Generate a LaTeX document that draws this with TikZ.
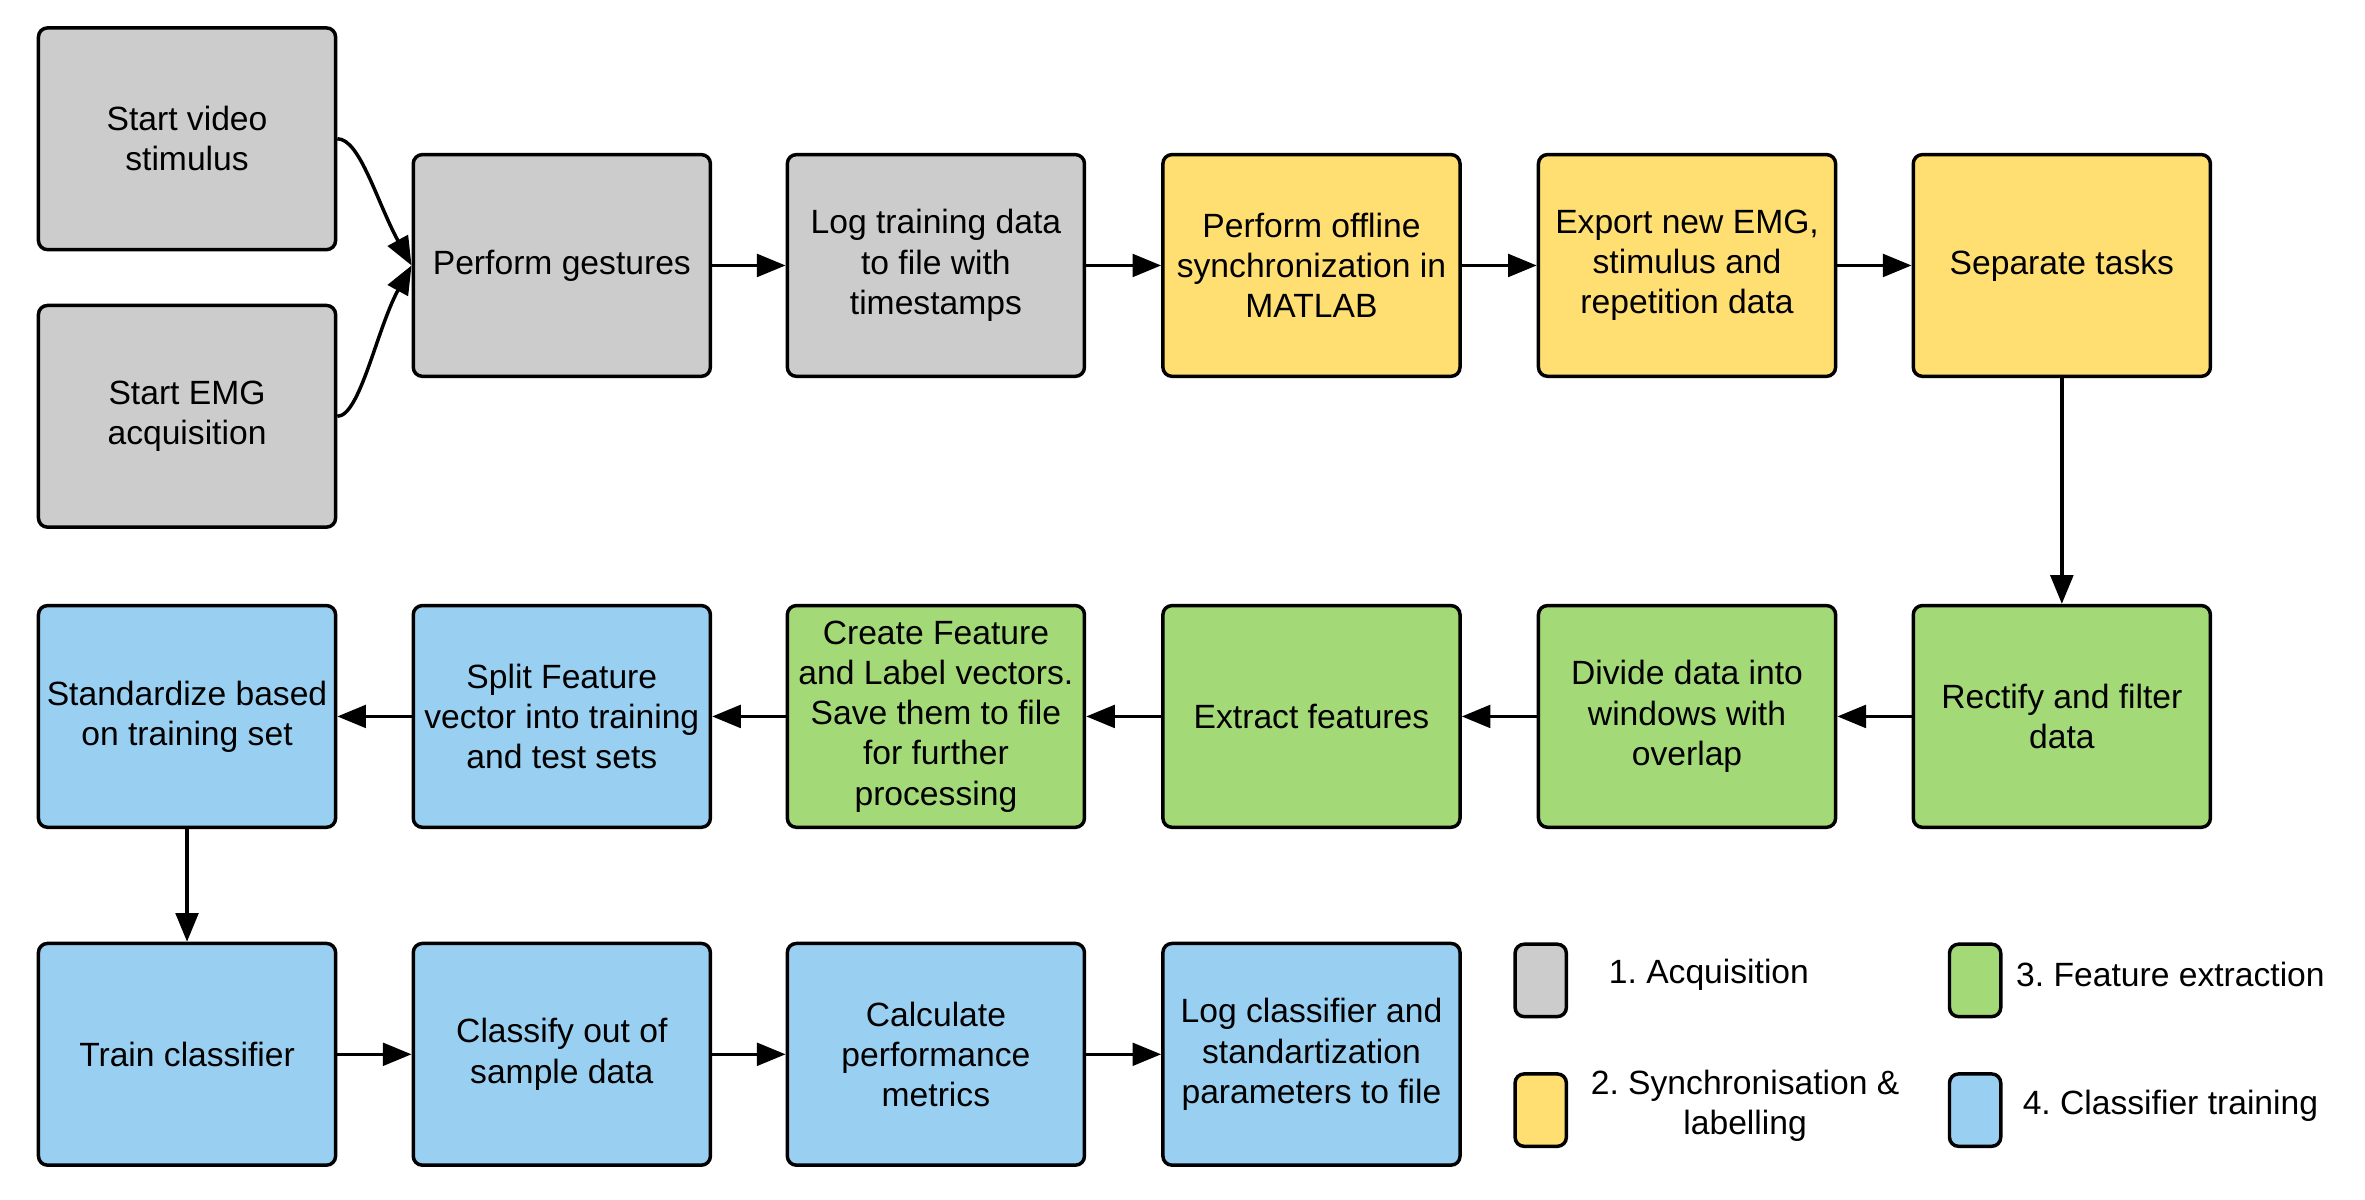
\documentclass[tikz,border=0pt]{standalone}
\usepackage{fontspec}
\setmainfont{Liberation Sans}
\usetikzlibrary{arrows.meta}
\frenchspacing

\definecolor{acqgray}{HTML}{CCCCCC}
\definecolor{syncyellow}{HTML}{FFDF71}
\definecolor{featgreen}{HTML}{A3D977}
\definecolor{clsblue}{HTML}{99D0F2}

\begin{document}
\begin{tikzpicture}[x=1pt,y=1pt,
  stage/.style={draw=black, line width=2.3pt, rounded corners=6pt,
    minimum width=197pt, minimum height=147pt, inner sep=0pt,
    align=center, font=\fontsize{22.3}{26.7}\selectfont},
  acq/.style={stage, fill=acqgray},
  sync/.style={stage, fill=syncyellow},
  feat/.style={stage, fill=featgreen},
  cls/.style={stage, fill=clsblue},
  key/.style={draw=black, line width=2.3pt, rounded corners=6pt,
    minimum width=34pt, minimum height=48pt, inner sep=0pt},
  keytext/.style={align=center, font=\fontsize{22.3}{26.7}\selectfont},
  conn/.style={line width=2.3pt, -{Triangle[length=19pt,width=15pt]}}
]
\useasboundingbox (0,0) rectangle (1568,-795);

% acquisition
\node[acq] (video) at (124,-92) {Start video\\stimulus};
\node[acq] (emg) at (124,-276) {Start EMG\\acquisition};
\node[acq] (gest) at (372.5,-176) {Perform gestures};
\node[acq] (log) at (620.5,-176) {Log training data\\to file with\\timestamps};

% synchronisation & labelling
\node[sync] (offline) at (869.5,-176) {Perform offline\\synchronization in\\MATLAB};
\node[sync] (export) at (1118.5,-176) {Export new EMG,\\stimulus and\\repetition data};
\node[sync] (tasks) at (1367,-176) {Separate tasks};

% feature extraction
\node[feat] (rect) at (1367,-475) {Rectify and filter\\data};
\node[feat] (windows) at (1118.5,-475) {Divide data into\\windows with\\overlap};
\node[feat] (extract) at (869.5,-475) {Extract features};
\node[feat] (vectors) at (620.5,-475) {Create Feature\\and Label vectors.\\Save them to file\\for further\\processing};

% classifier training
\node[cls] (split) at (372.5,-475) {Split Feature\\vector into training\\and test sets};
\node[cls] (std) at (124,-475) {Standardize based\\on training set};
\node[cls] (train) at (124,-699) {Train classifier};
\node[cls] (classify) at (372.5,-699) {Classify out of\\sample data};
\node[cls] (metrics) at (620.5,-699) {Calculate\\performance\\metrics};
\node[cls] (store) at (869.5,-699) {Log classifier and\\standartization\\parameters to file};

% legend
\node[key, fill=acqgray] (k1) at (1021.5,-650) {};
\node[key, fill=syncyellow] (k2) at (1021.5,-736) {};
\node[key, fill=featgreen] (k3) at (1309.5,-650) {};
\node[key, fill=clsblue] (k4) at (1309.5,-736) {};
\node[keytext] (t1) at (1133,-646) {1. Acquisition};
\node[keytext] (t2) at (1157,-733) {2. Synchronisation \&\\labelling};
\node[keytext] (t3) at (1439,-646) {3. Feature extraction};
\node[keytext] (t4) at (1439,-733) {4. Classifier training};

% connectors
\draw[conn] (video.east) .. controls +(15,0) and +(-23,42) .. (gest.west);
\draw[conn] (emg.east) .. controls +(15,0) and +(-23,-42) .. (gest.west);
\draw[conn] (gest) -- (log);
\draw[conn] (log) -- (offline);
\draw[conn] (offline) -- (export);
\draw[conn] (export) -- (tasks);
\draw[conn] (tasks) -- (rect);
\draw[conn] (rect) -- (windows);
\draw[conn] (windows) -- (extract);
\draw[conn] (extract) -- (vectors);
\draw[conn] (vectors) -- (split);
\draw[conn] (split) -- (std);
\draw[conn] (std) -- (train);
\draw[conn] (train) -- (classify);
\draw[conn] (classify) -- (metrics);
\draw[conn] (metrics) -- (store);
\end{tikzpicture}
\end{document}
